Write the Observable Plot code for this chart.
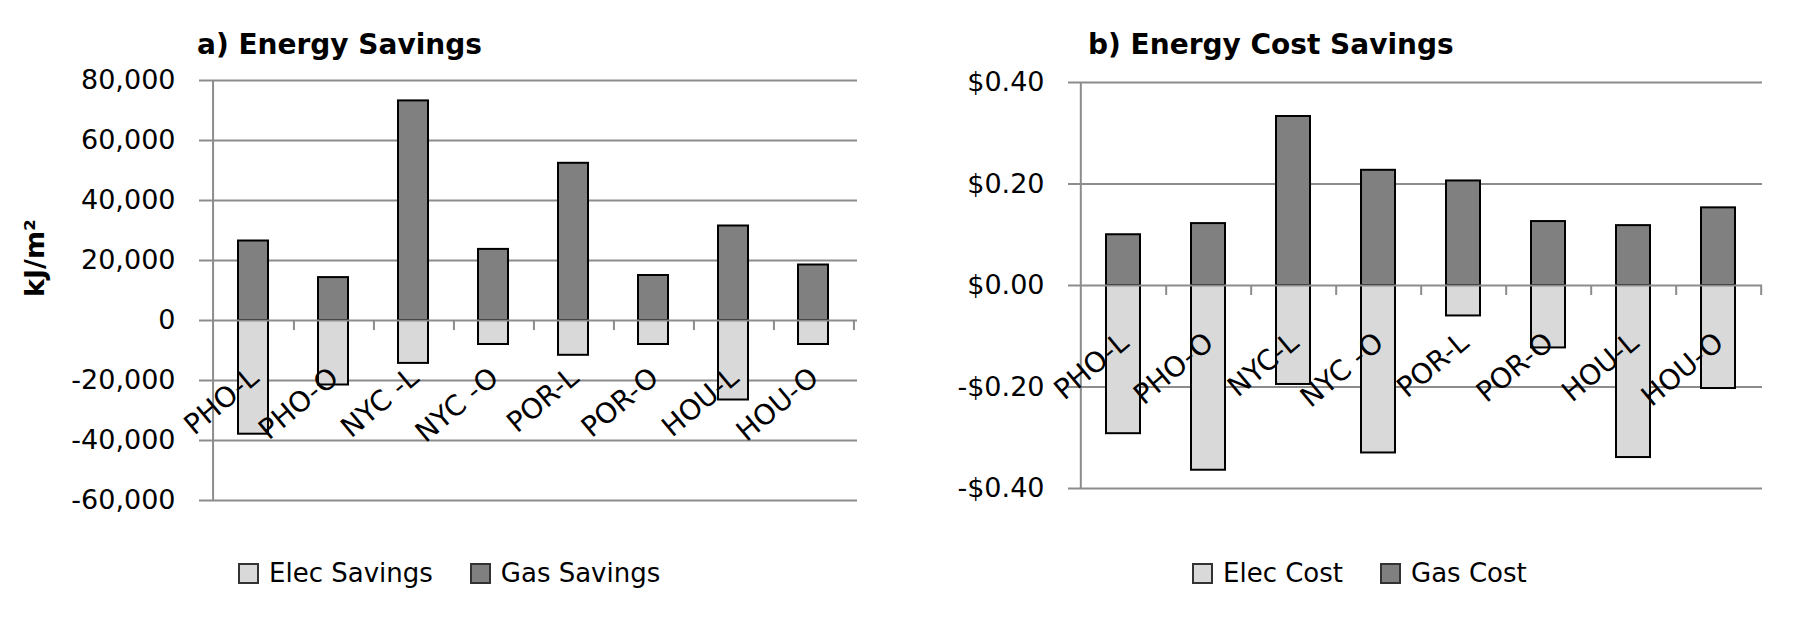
<!DOCTYPE html>
<html><head><meta charset="utf-8">
<script src="https://cdn.jsdelivr.net/npm/d3@7"></script>
<script src="https://cdn.jsdelivr.net/npm/@observablehq/plot@0.6"></script>
<style>
body{margin:0;background:#fff;font-family:"DejaVu Sans",sans-serif;color:#000;}
#wrap{position:relative;width:1800px;height:622px;overflow:hidden;background:#fff;}
.panel{position:absolute;top:0;width:900px;height:622px;}
.panel svg{position:absolute;left:0;top:0;}
.title{position:absolute;top:31px;font-weight:bold;font-size:28px;line-height:28px;white-space:nowrap;}
.ylab{position:absolute;font-weight:bold;font-size:27px;line-height:27px;white-space:nowrap;transform:translate(-50%,-50%) rotate(-90deg);}
.legend{position:absolute;top:560px;display:flex;align-items:center;font-size:26px;line-height:26px;white-space:nowrap;}
.sw{width:17px;height:17px;border:2px solid #333;margin-right:10px;box-sizing:content-box;}
.item{display:flex;align-items:center;margin-right:37px;}
</style></head>
<body><div id="wrap">
<div class="panel" id="pa" style="left:0"></div>
<div class="panel" id="pb" style="left:900px"></div>
</div>
<script>
// ---- data ----
const categories = ["PHO-L", "PHO-O", "NYC -L", "NYC -O", "POR-L", "POR-O", "HOU-L", "HOU-O"];
const categoriesB = ["PHO-L", "PHO-O", "NYC-L", "NYC -O", "POR-L", "POR-O", "HOU-L", "HOU-O"];
const elecSavings = [-37900, -21500, -14300, -8000, -11600, -8000, -26500, -8000];
const gasSavings = [26500, 14300, 73200, 23700, 52400, 15000, 31500, 18500];
const elecCost = [-0.292, -0.364, -0.195, -0.330, -0.060, -0.123, -0.339, -0.203];
const gasCost = [0.100, 0.122, 0.333, 0.227, 0.206, 0.126, 0.118, 0.153];
const savingsTicks = [-60000, -40000, -20000, 0, 20000, 40000, 60000, 80000];
const costTicks = [-0.4, -0.2, 0, 0.2, 0.4];
const seriesA = ["Elec Savings", "Gas Savings"];
const seriesB = ["Elec Cost", "Gas Cost"];
const titleA = "a) Energy Savings";
const titleB = "b) Energy Cost Savings";
const yLabelA = "kJ/m²";
const colors = ["#d9d9d9", "#808080"];

const fmtSavings = v => (v < 0 ? "-" : "") + d3.format(",")(Math.abs(v));
const fmtCost = v => (v < 0 ? "-" : "") + "$" + Math.abs(v).toFixed(2);

function panel(el, o) {
  const W = 900, H = 540;
  const cats = o.cats;
  const rows = cats.flatMap((c, i) => [
    {cat: c, series: o.series[0], value: o.elec[i]},
    {cat: c, series: o.series[1], value: o.gas[i]}
  ]);
  const plotW = W - o.marginLeft - o.marginRight;
  const plotH = H - o.marginTop - o.marginBottom;
  const step = plotW / cats.length;
  const dom = [o.ticks[0], o.ticks[o.ticks.length - 1]];
  const tickLen = 10 * (dom[1] - dom[0]) / plotH;
  const grid = "#8c8c8c";
  const marks = [
    Plot.ruleY(o.ticks.filter(t => t !== 0), {stroke: grid, strokeWidth: 2, insetLeft: -11}),
    Plot.ruleX([cats[0]], {dx: -step / 2, stroke: grid, strokeWidth: 2}),
    Plot.barY(rows, {x: "cat", y: "value", fill: "series", stroke: "#000", strokeWidth: 2}),
    Plot.ruleY([0], {stroke: grid, strokeWidth: 2, insetLeft: -11}),
    Plot.ruleX(cats, {x: d => d, y1: 0, y2: -tickLen, dx: step / 2, stroke: grid, strokeWidth: 2}),
    Plot.axisY({ticks: o.ticks, tickSize: 0, tickPadding: 35, tickFormat: o.fmt, label: null, fill: "#000", fontSize: 27}),
    Plot.text(cats, {x: d => d, y: 0, text: d => d, rotate: o.rotate, textAnchor: "end", lineAnchor: "bottom", dx: 7, dy: 60, fill: "#000", fontSize: 28})
  ];
  const chart = Plot.plot({
    width: W, height: H,
    marginLeft: o.marginLeft, marginRight: o.marginRight, marginTop: o.marginTop, marginBottom: o.marginBottom,
    style: {fontSize: "26px", fontFamily: "DejaVu Sans, sans-serif", color: "#000", background: "transparent"},
    x: {domain: cats, paddingInner: o.padding, paddingOuter: o.padding / 2, axis: null},
    y: {domain: dom, axis: null},
    color: {domain: o.series, range: colors},
    marks
  });
  el.appendChild(chart);
  if (o.ylabel) {
    const yl = document.createElement("div");
    yl.className = "ylab"; yl.style.left = "34px"; yl.style.top = "258px"; yl.textContent = o.ylabel;
    el.appendChild(yl);
  }
  const t = document.createElement("div");
  t.className = "title"; t.style.left = o.titleLeft + "px"; t.textContent = o.title;
  el.appendChild(t);
  const lg = document.createElement("div");
  lg.className = "legend"; lg.style.left = o.legendLeft + "px";
  o.series.forEach((s, i) => {
    const it = document.createElement("div"); it.className = "item";
    const sw = document.createElement("div"); sw.className = "sw"; sw.style.background = colors[i];
    const tx = document.createElement("span"); tx.textContent = s;
    it.appendChild(sw); it.appendChild(tx); lg.appendChild(it);
  });
  el.appendChild(lg);
}

panel(document.getElementById("pa"), {
  cats: categories, elec: elecSavings, gas: gasSavings, series: seriesA, ticks: savingsTicks, fmt: fmtSavings,
  ylabel: yLabelA, title: titleA, titleLeft: 197, legendLeft: 238,
  marginLeft: 210, marginRight: 43, marginTop: 80, marginBottom: 40, padding: 0.62, rotate: -40
});
panel(document.getElementById("pb"), {
  cats: categoriesB, elec: elecCost, gas: gasCost, series: seriesB, ticks: costTicks, fmt: fmtCost,
  ylabel: null, title: titleB, titleLeft: 188, legendLeft: 292,
  marginLeft: 179, marginRight: 38, marginTop: 82, marginBottom: 52, padding: 0.6, rotate: -40
});
</script>
</body></html>
